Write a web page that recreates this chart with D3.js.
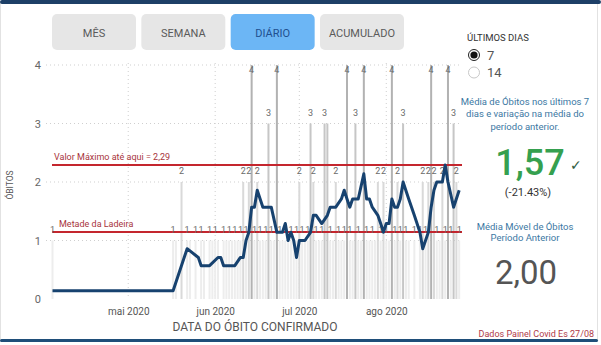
<!DOCTYPE html>
<html>
<head>
<meta charset="utf-8">
<script src="https://cdn.jsdelivr.net/npm/d3@7"></script>
<style>
  body { margin: 0; background: #fff; }
  svg { display: block; font-family: Roboto, "DejaVu Sans", sans-serif; }
</style>
</head>
<body>
<div id="chart"></div>
<script>
// daily deaths, one array per month (index 0 = day 1)
const deathsApr = [0,0,0,1,0,0,0,0,0,0, 0,0,0,0,0,0,0,0,0,0, 0,0,0,0,0,0,0,0,0,0];
const deathsMay = [0,0,0,0,0,0,0,0,0,0, 0,0,0,0,0,0,1,1,0,2, 0,1,1,0,1,0,1,1,0,1, 1];
const deathsJun = [1,1,0,1,1,1,1,1,1,1, 2,1,2,4,1,2,1,1,1,3, 1,1,4,1,1,1,1,1,1,1];
const deathsJul = [2,1,1,1,3,2,1,1,1,3, 3,1,1,2,1,1,1,4,1,1, 3,1,1,4,1,1,1,1,2,1, 2];
const deathsAug = [1,1,4,1,2,1,3,1,1,0, 1,0,1,2,1,2,4,2,1,1, 2,1,4,1,3,2,1];

// moving average line (vertices)
const avgDates = ["2020-04-04","2020-05-17","2020-05-22","2020-05-26","2020-05-27","2020-05-30",
  "2020-06-02","2020-06-03","2020-06-04","2020-06-08","2020-06-10","2020-06-11","2020-06-12","2020-06-13",
  "2020-06-14","2020-06-15","2020-06-16","2020-06-18","2020-06-21","2020-06-23","2020-06-25","2020-06-26",
  "2020-06-27","2020-06-28","2020-06-29","2020-06-30","2020-07-01","2020-07-03","2020-07-05","2020-07-06",
  "2020-07-07","2020-07-09","2020-07-11","2020-07-12","2020-07-14","2020-07-16","2020-07-17","2020-07-18",
  "2020-07-19","2020-07-20","2020-07-22","2020-07-24","2020-07-25","2020-07-26","2020-07-27","2020-07-29",
  "2020-07-30","2020-07-31","2020-08-01","2020-08-02","2020-08-03","2020-08-04","2020-08-05","2020-08-06",
  "2020-08-07","2020-08-09","2020-08-11","2020-08-13","2020-08-14","2020-08-16","2020-08-17","2020-08-18",
  "2020-08-19","2020-08-21","2020-08-22","2020-08-23","2020-08-25","2020-08-27"];
const avgValues = [0.14,0.14,0.86,0.71,0.57,0.57,
  0.71,0.71,0.57,0.57,0.71,0.71,1.0,1.14,
  1.57,1.57,1.86,1.57,1.57,1.14,1.14,1.29,
  1.0,1.14,1.0,0.71,1.0,1.0,1.14,1.43,
  1.43,1.29,1.43,1.57,1.57,1.71,1.86,1.71,
  1.57,1.71,1.71,2.14,1.71,1.71,1.57,1.43,
  1.29,1.14,1.29,1.29,1.71,1.57,1.57,1.71,
  2.0,1.71,1.43,1.14,0.86,1.14,1.57,1.86,
  2.0,2.0,2.29,2.0,1.57,1.86];

const monthTicks = ["2020-05-01","2020-06-01","2020-07-01","2020-08-01"];
const monthLabels = ["mai 2020","jun 2020","jul 2020","ago 2020"];
const yTicks = [0,1,2,3,4];
const refValues = [2.29, 1.145];
const refLabels = ["Valor Máximo até aqui = 2,29", "Metade da Ladeira"];
const buttons = ["MÊS","SEMANA","DIÁRIO","ACUMULADO"];
const activeButton = "DIÁRIO";
const radioOptions = ["7","14"];

const parseTime = d3.timeParse("%Y-%m-%d");

// flatten monthly arrays into daily records
const monthArrays = [[3, deathsApr],[4, deathsMay],[5, deathsJun],[6, deathsJul],[7, deathsAug]];
let bars = [];
monthArrays.forEach(([m, arr]) => {
  arr.forEach((v, i) => { if (v > 0) bars.push({date: new Date(2020, m, i + 1), value: v}); });
});
const avgData = avgDates.map((d, i) => ({date: parseTime(d), value: avgValues[i]}));

const W = 601, H = 345;
const svg = d3.select("#chart").append("svg").attr("width", W).attr("height", H);

// frame
svg.append("rect").attr("x", 0.5).attr("y", 2).attr("width", 597).attr("height", 338)
  .attr("fill", "#fff").attr("stroke", "#e2e2e2");
svg.append("rect").attr("x", 0).attr("y", 0).attr("width", 601).attr("height", 4).attr("rx", 2).attr("fill", "#1d3f67");
svg.append("rect").attr("x", 0).attr("y", 339).attr("width", 598).attr("height", 3).attr("rx", 1.5).attr("fill", "#1f4e79");

// buttons
const btnX = d3.scaleBand().domain(buttons).range([52, 404]).paddingInner(0.06);
const btn = svg.append("g").selectAll("g").data(buttons).enter().append("g");
btn.append("rect")
  .attr("x", d => btnX(d)).attr("y", 14).attr("width", btnX.bandwidth()).attr("height", 36).attr("rx", 5)
  .attr("fill", d => d === activeButton ? "#6cb6f5" : "#e6e6e6");
btn.append("text")
  .attr("x", d => btnX(d) + btnX.bandwidth() / 2).attr("y", 36.5)
  .attr("text-anchor", "middle").style("font-size", "11px")
  .attr("fill", d => d === activeButton ? "#1f4f8f" : "#5a5a5a")
  .text(d => d);

// scales
const x = d3.scaleTime().domain([new Date(2020, 3, 4), new Date(2020, 7, 28)]).range([52.5, 462]);
const y = d3.scaleLinear().domain([0, 4]).range([299, 65]);

// grid
const grid = svg.append("g");
grid.selectAll("line.h").data(yTicks.slice(1)).enter().append("line")
  .attr("x1", 46).attr("x2", 462).attr("y1", d => y(d)).attr("y2", d => y(d))
  .attr("stroke", "#cfcfcf").attr("stroke-dasharray", "1,3");
grid.selectAll("line.v").data(monthTicks).enter().append("line")
  .attr("x1", d => x(parseTime(d))).attr("x2", d => x(parseTime(d)))
  .attr("y1", 63).attr("y2", 299)
  .attr("stroke", "#cfcfcf").attr("stroke-dasharray", "1,3");

// bars
const barColor = d3.scaleLinear().domain([1, 4]).range(["#ededed", "#b2b2b2"]);
svg.append("g").selectAll("rect").data(bars).enter().append("rect")
  .attr("x", d => x(d.date) - 1).attr("width", 2)
  .attr("y", d => y(d.value)).attr("height", d => y(0) - y(d.value))
  .attr("fill", d => barColor(d.value));

// bar labels, hiding ones that collide on the same level
const lastX = {};
const shown = bars.filter(d => {
  const px = x(d.date);
  if (lastX[d.value] !== undefined && px - lastX[d.value] < 4.8) return false;
  lastX[d.value] = px;
  return true;
});

// reference lines
refValues.forEach((v, i) => {
  svg.append("line").attr("x1", 52).attr("x2", 462).attr("y1", y(v)).attr("y2", y(v))
    .attr("stroke", "#c4262e").attr("stroke-width", 2);
  svg.append("text").attr("x", i === 0 ? 54 : 59).attr("y", y(v) - 5)
    .style("font-size", "9px").attr("fill", "#a8343c").text(refLabels[i]);
});

svg.append("g").selectAll("text").data(shown).enter().append("text")
  .attr("x", d => x(d.date)).attr("y", d => d.value === 4 ? y(d.value) + 8 : y(d.value) - 8)
  .attr("text-anchor", "middle").style("font-size", "9px").attr("fill", "#6a6a6a")
  .text(d => d.value);

// moving average line
const valueline = d3.line().x(d => x(d.date)).y(d => y(d.value));
svg.append("path").datum(avgData).attr("d", valueline)
  .attr("fill", "none").attr("stroke", "#17426f").attr("stroke-width", 3)
  .attr("stroke-linejoin", "round");

// axes
const yAxis = svg.append("g").attr("transform", "translate(52,0)")
  .call(d3.axisLeft(y).tickValues(yTicks).tickSize(0).tickPadding(11).tickFormat(d3.format("d")));
yAxis.select(".domain").remove();
yAxis.selectAll("text").style("font-size", "11px").attr("fill", "#666").style("font-family", "Roboto, sans-serif");

const xAxis = svg.append("g").attr("transform", "translate(0,299)")
  .call(d3.axisBottom(x).tickValues(monthTicks.map(parseTime)).tickSize(0).tickPadding(9)
    .tickFormat((d, i) => monthLabels[i]));
xAxis.select(".domain").remove();
xAxis.selectAll("text").style("font-size", "10px").attr("fill", "#555").style("font-family", "Roboto, sans-serif");

svg.append("text").attr("x", 255).attr("y", 331).attr("text-anchor", "middle")
  .style("font-size", "12px").attr("fill", "#555").text("DATA DO ÓBITO CONFIRMADO");
svg.append("text").attr("transform", "translate(13,185) rotate(-90)").attr("text-anchor", "middle")
  .style("font-size", "8.5px").attr("fill", "#555").text("ÓBITOS");

// right panel
svg.append("text").attr("x", 467).attr("y", 41).style("font-size", "9.5px").attr("fill", "#333").text("ÚLTIMOS DIAS");
radioOptions.forEach((o, i) => {
  const cy = 55 + i * 17.5;
  svg.append("circle").attr("cx", 474).attr("cy", cy).attr("r", 5.5)
    .attr("fill", "#fff").attr("stroke", i === 0 ? "#222" : "#c8c8c8").attr("stroke-width", 1);
  if (i === 0) svg.append("circle").attr("cx", 474).attr("cy", cy).attr("r", 3.6).attr("fill", "#111");
  svg.append("text").attr("x", 487).attr("y", cy + 4.5).style("font-size", "13px").attr("fill", "#555").text(o);
});

const blue = "#3c78a3";
["Média de Óbitos nos últimos 7", "dias e variação na média do", "período anterior."].forEach((t, i) => {
  svg.append("text").attr("x", 525).attr("y", 105 + i * 12.3).attr("text-anchor", "middle")
    .style("font-size", "9.5px").attr("fill", blue).text(t);
});
svg.append("text").attr("x", 530).attr("y", 175).attr("text-anchor", "middle")
  .style("font-size", "36px").attr("fill", "#35a04f").style("font-weight", 500).text("1,57");
svg.append("text").attr("x", 570).attr("y", 170).style("font-size", "14px").attr("fill", "#2f5b3e")
  .style("font-family", "DejaVu Sans").text("✓");
svg.append("text").attr("x", 528).attr("y", 196).attr("text-anchor", "middle")
  .style("font-size", "11px").attr("fill", "#333").text("(-21.43%)");
["Média Móvel de Óbitos", "Período Anterior"].forEach((t, i) => {
  svg.append("text").attr("x", 525).attr("y", 230 + i * 11).attr("text-anchor", "middle")
    .style("font-size", "9.5px").attr("fill", blue).text(t);
});
svg.append("text").attr("x", 526).attr("y", 284).attr("text-anchor", "middle")
  .style("font-size", "33px").attr("fill", "#555").text("2,00");
svg.append("text").attr("x", 594).attr("y", 337).attr("text-anchor", "end")
  .style("font-size", "9px").attr("fill", "#b03a48").text("Dados Painel Covid Es 27/08");
</script>
</body>
</html>
